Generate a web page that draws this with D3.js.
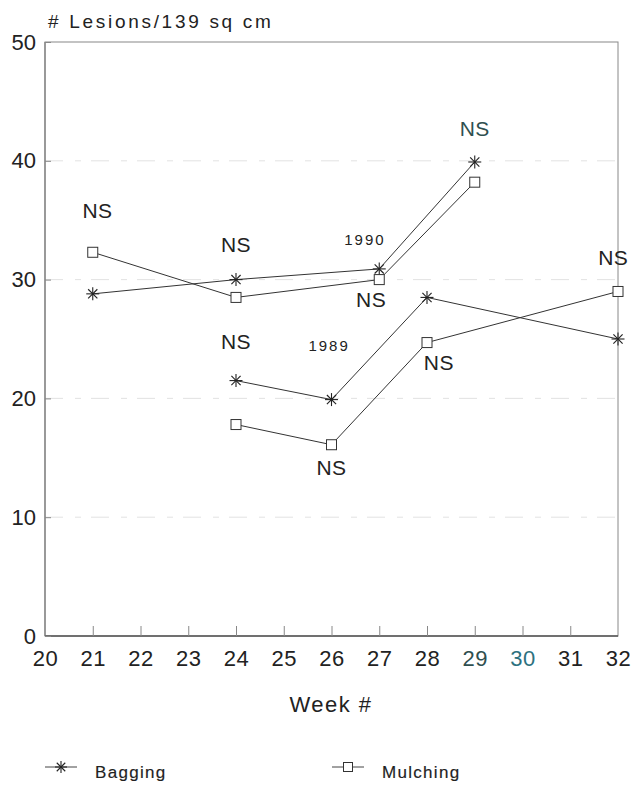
<html>
<head>
<script src="https://cdnjs.cloudflare.com/ajax/libs/d3/7.8.5/d3.min.js"></script>
<style>
body { margin: 0; background: #fff; font-family: "Liberation Sans", Arial, sans-serif; }
#canvas { background-color: white; }
</style>
</head>
<body>
<svg id="canvas" width="641" height="787"></svg>
<script>
// data
var weeks = [20, 21, 22, 23, 24, 25, 26, 27, 28, 29, 30, 31, 32];
var yTicks = [0, 10, 20, 30, 40, 50];

var bag1990 = [[21, 28.8], [24, 30.0], [27, 30.9], [29, 39.9]];
var mulch1990 = [[21, 32.3], [24, 28.5], [27, 30.0], [29, 38.2]];
var bag1989 = [[24, 21.5], [26, 19.9], [28, 28.5], [32, 25.0]];
var mulch1989 = [[24, 17.8], [26, 16.1], [28, 24.7], [32, 29.0]];

// text notes: [week, value, text]
var notes = [
  [21.1, 35.2, "NS"], [24, 32.3, "NS"], [26.7, 32.9, "1990"],
  [26.83, 27.7, "NS"], [29, 42.1, "NS"], [31.9, 31.2, "NS"],
  [24, 24.2, "NS"], [25.95, 24.0, "1989"], [26, 13.55, "NS"],
  [28.25, 22.4, "NS"]
];

var svg = d3.select("#canvas");
var ink = "#222";
var font = "Liberation Sans, Arial, sans-serif";

var x = d3.scaleLinear().domain([20, 32]).range([45, 618]);
var y = d3.scaleLinear().domain([0, 50]).range([636, 42]);

// faint grid
svg.append("g").selectAll("line").data([10, 20, 30, 40]).join("line")
  .attr("x1", x(20)).attr("x2", x(32))
  .attr("y1", d => y(d)).attr("y2", d => y(d))
  .attr("stroke", "#c8c8c8").attr("stroke-width", 1)
  .attr("stroke-dasharray", "18,12,6,10").attr("opacity", 0.5);

// frame
svg.append("rect").attr("x", x(20)).attr("y", y(50))
  .attr("width", x(32) - x(20)).attr("height", y(0) - y(50))
  .attr("fill", "none").attr("stroke", "#888").attr("stroke-width", 1);
svg.append("line").attr("x1", x(20)).attr("x2", x(32))
  .attr("y1", y(0)).attr("y2", y(0)).attr("stroke", "#555").attr("stroke-width", 1.3);
svg.append("line").attr("x1", x(20)).attr("x2", x(20))
  .attr("y1", y(0)).attr("y2", y(50)).attr("stroke", "#777").attr("stroke-width", 1.1);

// x axis
var xAxis = d3.axisBottom(x).tickValues(weeks).tickSize(-10).tickPadding(14).tickFormat(d3.format("d"));
var gx = svg.append("g").attr("transform", "translate(0," + y(0) + ")").call(xAxis);
gx.select(".domain").remove();
gx.selectAll(".tick line").attr("stroke", "#888");
gx.selectAll(".tick text").attr("font-size", 22).attr("font-family", font)
  .attr("letter-spacing", 0.5)
  .attr("fill", d => d === 30 ? "#2d7180" : (d === 29 ? "#2f4f4f" : ink));
gx.selectAll(".tick").filter(d => d === 20 || d === 32).select("line").remove();

// y axis
var yAxis = d3.axisLeft(y).tickValues(yTicks).tickSize(-6).tickPadding(9);
var gy = svg.append("g").attr("transform", "translate(" + x(20) + ",0)").call(yAxis);
gy.select(".domain").remove();
gy.selectAll(".tick line").attr("stroke", "#888");
gy.selectAll(".tick text").attr("font-size", 22).attr("fill", ink).attr("font-family", font);

// titles
svg.append("text").attr("x", 48).attr("y", 28).attr("font-size", 19)
  .attr("letter-spacing", 2.7).attr("fill", ink).attr("font-family", font)
  .text("# Lesions/139 sq cm");
svg.append("text").attr("x", 331).attr("y", 712).attr("text-anchor", "middle")
  .attr("font-size", 22).attr("letter-spacing", 1.5).attr("fill", ink)
  .attr("font-family", font).text("Week #");

var line = d3.line().x(d => x(d[0])).y(d => y(d[1]));
var series = [
  { data: bag1990, sym: "star" }, { data: mulch1990, sym: "square" },
  { data: bag1989, sym: "star" }, { data: mulch1989, sym: "square" }
];

function drawStar(g, cx, cy, r) {
  [0, 45, 90, 135].forEach(function (a) {
    var rad = a * Math.PI / 180;
    g.append("line")
      .attr("x1", cx - r * Math.cos(rad)).attr("y1", cy - r * Math.sin(rad))
      .attr("x2", cx + r * Math.cos(rad)).attr("y2", cy + r * Math.sin(rad))
      .attr("stroke", "#222").attr("stroke-width", 1.1);
  });
}
function drawSquare(g, cx, cy, s) {
  g.append("rect").attr("x", cx - s / 2).attr("y", cy - s / 2)
    .attr("width", s).attr("height", s)
    .attr("fill", "white").attr("stroke", "#333").attr("stroke-width", 1);
}

series.forEach(function (s) {
  svg.append("path").datum(s.data).attr("d", line)
    .attr("fill", "none").attr("stroke", "#333").attr("stroke-width", 1);
});
series.forEach(function (s) {
  var g = svg.append("g");
  s.data.forEach(function (d) {
    if (s.sym === "star") drawStar(g, x(d[0]), y(d[1]), 6.5);
    else drawSquare(g, x(d[0]), y(d[1]), 10);
  });
});

// notes
svg.append("g").selectAll("text").data(notes).join("text")
  .attr("x", d => x(d[0])).attr("y", d => y(d[1]))
  .attr("text-anchor", "middle").attr("font-family", font)
  .attr("font-size", d => d[2] === "NS" ? 21 : 15)
  .attr("letter-spacing", d => d[2] === "NS" ? 0.5 : 2)
  .attr("fill", d => d[2] === "NS" && d[0] === 29 ? "#2f4f4f" : ink)
  .text(d => d[2]);

// legend
var legend = [
  { label: "Bagging", sym: "star", x0: 45 },
  { label: "Mulching", sym: "square", x0: 332 }
];
legend.forEach(function (l) {
  var g = svg.append("g");
  g.append("line").attr("x1", l.x0).attr("x2", l.x0 + 32)
    .attr("y1", 767).attr("y2", 767).attr("stroke", "#444").attr("stroke-width", 1);
  if (l.sym === "star") drawStar(g, l.x0 + 16, 767, 6);
  else drawSquare(g, l.x0 + 16, 767, 9);
  g.append("text").attr("x", l.x0 + 50).attr("y", 778).attr("font-size", 17)
    .attr("font-family", font).attr("stroke", ink).attr("stroke-width", 0.15)
    .attr("fill", ink).attr("letter-spacing", 1.3).text(l.label);
});
</script>
</body>
</html>
